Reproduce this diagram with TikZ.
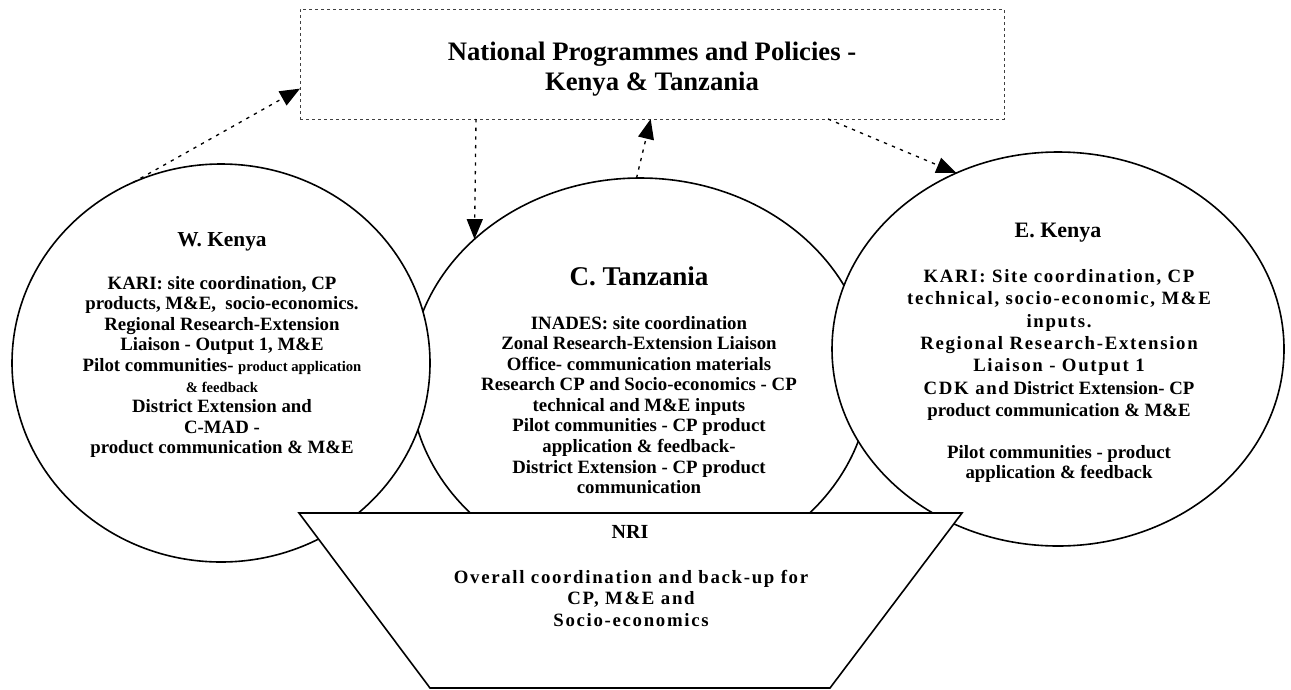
\documentclass[tikz,border=0pt]{standalone}
\usepackage{fontspec}
\setmainfont{Liberation Serif}
\newfontfamily\widefont[LetterSpace=9]{Liberation Serif}
\usepackage{tikz}
\usetikzlibrary{shapes.geometric}
\usetikzlibrary{arrows.meta}

\begin{document}
\begin{tikzpicture}[x=0.75pt,y=0.75pt,yscale=-1,xscale=1,
  region/.style={draw, ellipse, fill=white, line width=1.2pt, inner sep=0pt, outer sep=0pt},
  policybox/.style={draw=black!75, dash pattern=on 2.5pt off 2pt, line width=0.5pt, inner sep=0pt, outer sep=0pt},
  link/.style={dash pattern=on 2.5pt off 4pt, line width=1pt, -{Triangle[length=15pt,width=12pt]}},
  bodytext/.style={align=center, inner sep=0.75pt, font=\bfseries\fontsize{14.1}{15.4}\selectfont}
]
\useasboundingbox (0,0) rectangle (1291,689);

%Shape: Rectangle
\node[policybox, minimum width=528pt, minimum height=82.5pt] (nat) at (652,64) {};
% Text Node
\node[bodytext, font=\bfseries\fontsize{20}{22.5}\selectfont] (natlbl) at (652,69) {National Programmes and Policies -\\Kenya \& Tanzania};

%Shape: Ellipse
\node[region, minimum width=345pt, minimum height=300pt] (tz) at (640,378) {};
%Shape: Ellipse
\node[region, minimum width=313.5pt, minimum height=298.5pt] (wk) at (221,363) {};
%Shape: Ellipse
\node[region, minimum width=339pt, minimum height=295.5pt] (ek) at (1058,349) {};

%Shape: Trapezoid
\draw[line width=1.2pt, fill=white] (299,513) -- (962,513) -- (830,688) -- (430,688) -- cycle;

% Text Node
\node[bodytext, font=\bfseries\fontsize{16}{19}\selectfont] (wkhead) at (222,242) {W. Kenya};
% Text Node
\node[bodytext] (wkbody) at (222,367) {KARI: site coordination, CP\\products, M\&E,\ \ socio-economics.\\Regional Research-Extension\\Liaison - Output 1, M\&E\\Pilot communities-\ {\fontsize{11}{12}\selectfont product application}\\{\fontsize{11}{12}\selectfont \& feedback}\\District Extension and\\C-MAD -\\product communication \& M\&E};

% Text Node
\node[bodytext, font=\bfseries\fontsize{20.3}{24}\selectfont] (tzhead) at (639,276) {C. Tanzania};
% Text Node
\node[bodytext] (tzbody) at (639,405) {INADES: site coordination\\Zonal Research-Extension Liaison\\Office- communication materials\\Research CP and Socio-economics - CP\\technical and M\&E inputs\\Pilot communities - CP product\\application \& feedback-\\District Extension - CP product\\communication};

% Text Node
\node[bodytext, font=\bfseries\fontsize{16.5}{19}\selectfont] (ekhead) at (1058,233) {E. Kenya};
% Text Node
\node[bodytext, font=\bfseries\fontsize{14.1}{16.7}\selectfont] (ekbody) at (1059,345) {{\widefont KARI: Site coordination, CP}\\{\widefont technical, socio-economic, M\&E}\\{\widefont inputs.}\\{\widefont Regional Research-Extension}\\{\widefont Liaison - Output 1}\\{\widefont CDK and} District Extension- CP\\product communication \& M\&E};
% Text Node
\node[bodytext] (ekpilot) at (1059,464) {Pilot communities - product\\application \& feedback};

% Text Node
\node[bodytext, font=\bfseries\fontsize{15}{18}\selectfont] (nrihead) at (630,532) {NRI};
% Text Node
\node[bodytext, font=\bfseries\widefont\fontsize{14.1}{16.1}\selectfont] (nribody) at (631,598) {Overall coordination and back-up for\\CP, M\&E and\\Socio-economics};

%Straight Lines
\draw[link] (wk.116.8) -- (nat.184.7);
%Straight Lines
\draw[link] ([xshift=-132pt]nat.south) -- (tz.140);
%Straight Lines
\draw[link] (tz.91) -- ([xshift=-1pt]nat.south);
%Straight Lines
\draw[link] ([xshift=132pt]nat.south) -- (ek.120.1);

\end{tikzpicture}
\end{document}
